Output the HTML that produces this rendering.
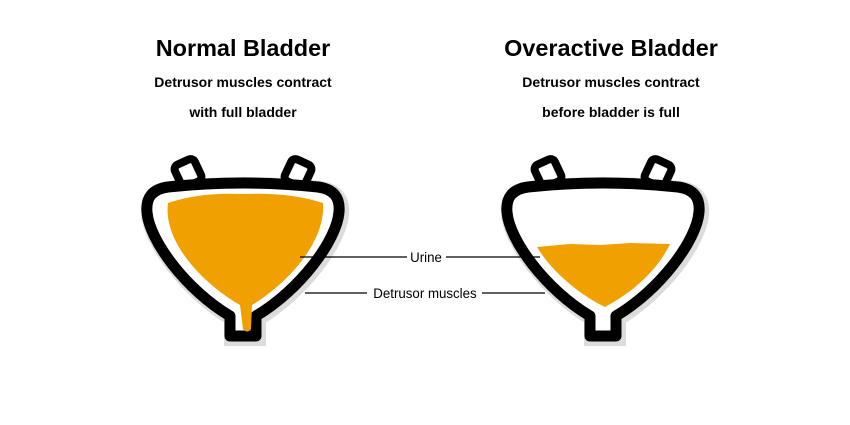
<!DOCTYPE html>
<html><head><meta charset="utf-8"><style>
html,body{margin:0;padding:0;background:#fff;width:850px;height:425px;overflow:hidden}
svg{display:block}
</style></head><body>
<svg width="850" height="425" viewBox="0 0 850 425" xmlns="http://www.w3.org/2000/svg" font-family="Liberation Sans, Arial, sans-serif">
<defs>
<path id="outl" d="M168,187 Q243,179 318,187 Q341,190 339,212 C337,240 300,290 256,316 L256,336 L230,336 L230,316 C186,290 149,240 147,212 Q145,190 168,187 Z"/>
<g id="bl">
  <use href="#outl" fill="none" stroke="#dcdcdc" stroke-width="16" transform="translate(2,2)"/>
  <rect x="-11" y="-12" width="22" height="24" rx="5" fill="#fff" stroke="#000" stroke-width="8" transform="translate(188,173) rotate(-25)"/>
  <rect x="-11" y="-12" width="22" height="24" rx="5" fill="#fff" stroke="#000" stroke-width="8" transform="translate(298,173) rotate(25)"/>
  <use href="#outl" fill="#fff" stroke="#000" stroke-width="11" stroke-linejoin="round"/>
</g>
</defs>
<g font-weight="bold" text-anchor="middle" fill="#000">
<text x="243" y="56" font-size="23" transform="translate(243,0) scale(1.02,1) translate(-243,0)">Normal Bladder</text>
<text x="243" y="87" font-size="14" transform="translate(243,0) scale(1.0,1) translate(-243,0)">Detrusor muscles contract</text>
<text x="243" y="117" font-size="14">with full bladder</text>
<text x="611" y="56" font-size="23" transform="translate(611,0) scale(1.02,1) translate(-611,0)">Overactive Bladder</text>
<text x="611" y="87" font-size="14">Detrusor muscles contract</text>
<text x="611" y="117" font-size="14">before bladder is full</text>
</g>
<use href="#bl"/>
<use href="#bl" transform="translate(360,0)"/>
<path d="M168,203 Q200,192 243,194 Q290,192 323,203 C326,240 290,282 252,305 L251,329 Q247,334 243,329 L240,305 C200,282 163,240 168,203 Z" fill="#f0a000"/>
<path d="M537,247 L570,244 L600,245 L630,243 L670,244 C660,265 640,288 605,307 C580,295 552,272 537,247 Z" fill="#f0a000"/>
<g stroke="#000" stroke-width="1.2">
<line x1="300" y1="257" x2="407" y2="257"/>
<line x1="446" y1="257" x2="540" y2="257"/>
<line x1="305" y1="293" x2="367" y2="293"/>
<line x1="482" y1="293" x2="545" y2="293"/>
</g>
<g font-size="14" fill="#000" text-anchor="middle">
<text x="426" y="262" transform="translate(426,0) scale(0.95,1) translate(-426,0)">Urine</text>
<text x="425" y="298" transform="translate(425,0) scale(0.95,1) translate(-425,0)">Detrusor muscles</text>
</g>
</svg>
</body></html>
